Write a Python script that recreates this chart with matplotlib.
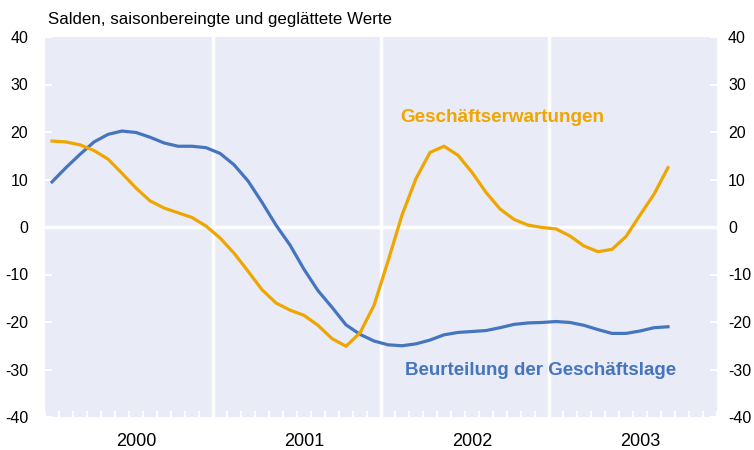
import numpy as np
import matplotlib
matplotlib.use('Agg')
import matplotlib.pyplot as plt

plt.rcParams['font.family'] = ['Liberation Sans', 'DejaVu Sans']
plt.rcParams['axes.unicode_minus'] = False

# monthly values, Jan 2000 .. Sep 2003
years = [2000, 2001, 2002, 2003]
lage = [9.5, 12.5, 15.3, 17.9, 19.5, 20.2, 19.9, 18.9, 17.7, 17.0, 17.0, 16.7,
        15.5, 13.1, 9.7, 5.2, 0.4, -3.8, -8.9, -13.4, -16.9, -20.6, -22.6, -24.0,
        -24.8, -25.0, -24.6, -23.8, -22.7, -22.2, -22.0, -21.8, -21.2, -20.5, -20.2, -20.1,
        -19.9, -20.1, -20.7, -21.6, -22.4, -22.4, -21.9, -21.2, -21.0]
erwartungen = [18.1, 17.9, 17.3, 16.1, 14.3, 11.3, 8.2, 5.5, 4.0, 3.0, 2.0, 0.2,
               -2.3, -5.5, -9.3, -13.2, -16.0, -17.5, -18.6, -20.7, -23.5, -25.1, -22.3, -16.5,
               -7.2, 2.5, 10.2, 15.7, 17.0, 15.1, 11.5, 7.3, 3.8, 1.6, 0.4, -0.1,
               -0.4, -1.9, -4.0, -5.2, -4.7, -2.0, 2.5, 6.9, 12.5]
yticks = list(range(-40, 41, 10))

BLUE = '#4575BF'
ORANGE = '#EFA600'
BG = '#E9EBF6'

fig = plt.figure(figsize=(7.54, 4.5), dpi=100)
ax = fig.add_axes([45 / 754, 33 / 450, 672 / 754, 380 / 450])
ax.set_facecolor(BG)

n_months = 12 * len(years)
x = np.arange(len(lage)) + 0.5

# grid: zero line and year separators
ax.axhline(0, color='white', lw=2.5, zorder=1)
for k in range(1, len(years)):
    ax.axvline(12 * k, color='white', lw=2.5, zorder=1)

ax.plot(x, lage, color=BLUE, lw=2.3, zorder=3)
ax.plot(x, erwartungen, color=ORANGE, lw=2.3, zorder=3)

ax.set_xlim(0, n_months)
ax.set_ylim(-40, 40)
ax.set_yticks(yticks)
ax.tick_params(axis='y', direction='in', length=5, width=1.5, color='white',
               labelcolor='black', labelsize=11.5, pad=12)

ax.set_xticks(range(0, n_months + 1))
ax.tick_params(axis='x', direction='in', length=4, width=1.5, color='white',
               labelbottom=False)

# right hand axis with the same scale
ax2 = ax.twinx()
ax2.set_ylim(-40, 40)
ax2.set_yticks(yticks)
ax2.tick_params(axis='y', direction='in', length=5, width=1.5, color='white',
                labelcolor='black', labelsize=11.5, pad=8)

for a in (ax, ax2):
    for s in a.spines.values():
        s.set_visible(False)

for k, yr in enumerate(years):
    ax.text(12 * k + 6.5, -0.065, str(yr), transform=ax.get_xaxis_transform(),
            ha='center', va='center', fontsize=13)

ax.text(0.004, 1.045, 'Salden, saisonbereingte und geglättete Werte',
        transform=ax.transAxes, ha='left', va='center', fontsize=12.2)

ax.text(25.4, 23.0, 'Geschäftserwartungen', color=ORANGE, fontsize=13.6,
        fontweight='bold', ha='left', va='center')
ax.text(25.7, -30.3, 'Beurteilung der Geschäftslage', color=BLUE, fontsize=13.5,
        fontweight='bold', ha='left', va='center')

fig.savefig('out.png', dpi=100)
